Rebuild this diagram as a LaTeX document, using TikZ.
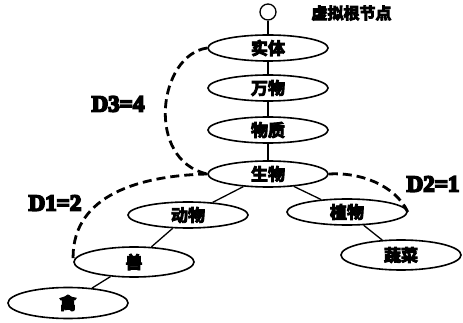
\documentclass[tikz,border=0pt]{standalone}
\usepackage{fontspec}
\newfontfamily\cjk{Noto Sans CJK SC}[BoldFont={* Bold}]
\newfontfamily\labfont{Liberation Serif}
\setmainfont{Liberation Serif}
\usetikzlibrary{shapes.geometric}
\newcommand\heavytxt[2][0.9]{\special{pdf:literal direct 2 Tr #1 w}#2\special{pdf:literal direct 0 Tr}}
\begin{document}
\begin{tikzpicture}[x=1pt,y=-1pt,
  ell/.style={draw,line width=1.6pt,ellipse,minimum width=120pt,minimum height=26pt,inner sep=0pt,font=\cjk\bfseries\fontsize{17}{17}\selectfont},
  link/.style={line width=1.3pt},
  dist/.style={line width=2.8pt,dash pattern=on 9pt off 5pt},
  lab/.style={font=\labfont\bfseries\fontsize{23}{23}\selectfont}]
\useasboundingbox (0,0) rectangle (463,323);
\node[draw,line width=1.3pt,circle,minimum size=16pt,inner sep=0pt] (root) at (268,12) {};
\node[anchor=west,font=\cjk\bfseries\fontsize{16}{16}\selectfont] (rootlab) at (308,13) {\heavytxt{虚拟根节点}};
\node[ell] (shiti) at (268,48) {\heavytxt{实体}};
\node[ell] (wanwu) at (268,88) {\heavytxt{万物}};
\node[ell] (wuzhi) at (268,130) {\heavytxt{物质}};
\node[ell] (shengwu) at (268,174) {\heavytxt{生物}};
\node[ell] (dongwu) at (188,215) {\heavytxt{动物}};
\node[ell] (zhiwu) at (347,212) {\heavytxt{植物}};
\node[ell,minimum height=30pt] (shucai) at (401,255) {\heavytxt{蔬菜}};
\node[ell,minimum height=30pt] (shou) at (134,262) {\heavytxt{兽}};
\node[ell,minimum height=31pt] (qin) at (68,303) {\heavytxt{禽}};
\draw[link] (root) -- (shiti) -- (wanwu) -- (wuzhi) -- (shengwu);
\draw[link] (shengwu) -- (dongwu) -- (shou) -- (qin);
\draw[link] (shengwu) -- (zhiwu) -- (shucai);
\draw[dist] (shiti.west) .. controls (158,55) and (145,160) .. (shengwu.west);
\draw[dist] (shengwu.west) .. controls (130,176) and (70,200) .. (shou.west);
\draw[dist] (shengwu.east) .. controls (360,172) and (395,185) .. (zhiwu.east);
\node[lab] (d34) at (118,104) {\heavytxt[1.8]{D3=4}};
\node[lab] (d12) at (55,203) {\heavytxt[1.8]{D1=2}};
\node[lab] (d21) at (433,184) {\heavytxt[1.8]{D2=1}};
\end{tikzpicture}
\end{document}
